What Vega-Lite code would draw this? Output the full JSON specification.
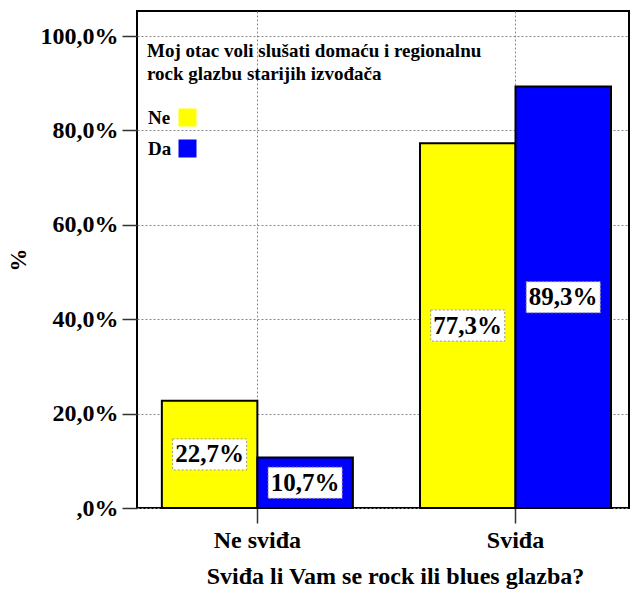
{
  "$schema": "https://vega.github.io/schema/vega-lite/v6.json",
  "width": 492,
  "height": 497,
  "autosize": {"type": "none"},
  "padding": {"left": 137, "top": 11, "right": 1, "bottom": 84},
  "config": {
    "locale": {"number": {"decimal": ",", "thousands": ".", "grouping": [3], "currency": ["", " €"]}},
    "font": "Liberation Serif",
    "view": {"stroke": "black", "strokeWidth": 2}
  },
  "data": {
    "values": [
      {"svida": "Ne sviđa", "otac": "Ne", "pct": 0.227},
      {"svida": "Ne sviđa", "otac": "Da", "pct": 0.107},
      {"svida": "Sviđa", "otac": "Ne", "pct": 0.773},
      {"svida": "Sviđa", "otac": "Da", "pct": 0.893}
    ]
  },
  "encoding": {
    "x": {
      "field": "svida", "type": "nominal", "sort": ["Ne sviđa", "Sviđa"],
      "scale": {"paddingInner": 0.26, "paddingOuter": 0.083, "align": 0.58},
      "axis": {
        "title": "Sviđa li Vam se rock ili blues glazba?",
        "labelAngle": 0, "domain": false, "grid": true, "gridColor": "#888", "gridDash": [2, 2], "gridWidth": 1,
        "ticks": true, "tickSize": 15, "tickColor": "#333", "tickWidth": 1.5,
        "labelFontSize": 24, "labelFontWeight": "bold", "labelColor": "black", "labelPadding": 5,
        "titleFontSize": 24, "titleFontWeight": "bold", "titleColor": "black", "titlePadding": 12, "titleX": 258
      }
    },
    "xOffset": {"field": "otac", "type": "nominal", "sort": ["Ne", "Da"], "scale": {"paddingInner": 0, "paddingOuter": 0}}
  },
  "layer": [
    {
      "mark": {"type": "bar", "stroke": "black", "strokeWidth": 2},
      "encoding": {
        "y": {
          "field": "pct", "type": "quantitative",
          "scale": {"domain": [0, 1.053], "nice": false},
          "axis": {
            "title": "%", "values": [0, 0.2, 0.4, 0.6, 0.8, 1], "format": ".1%",
            "labelExpr": "datum.value == 0 ? ',0%' : datum.label",
            "domain": false, "grid": true, "gridColor": "#888", "gridDash": [2, 2], "gridWidth": 1,
            "tickSize": 15, "tickColor": "#333", "tickWidth": 1.5,
            "labelFontSize": 24, "labelFontWeight": "bold", "labelColor": "black", "labelPadding": 4,
            "titleFontSize": 23, "titleFontWeight": "bold", "titleColor": "black", "titlePadding": 10
          }
        },
        "color": {
          "field": "otac", "type": "nominal",
          "scale": {"domain": ["Ne", "Da"], "range": ["#FFFF00", "#0000FF"]},
          "legend": {
            "orient": "none", "legendX": 10, "legendY": 31, "padding": 0,
            "title": ["Moj otac voli slušati domaću i regionalnu", "rock glazbu starijih izvođača"],
            "titleFontSize": 19, "titleFontWeight": "bold", "titleColor": "black", "titleLineHeight": 23,
            "titlePadding": 24, "titleLimit": 1000,
            "labelFontSize": 19, "labelFontWeight": "bold", "labelColor": "black",
            "symbolType": "square", "symbolSize": 324, "symbolStrokeWidth": 0, "symbolOpacity": 1,
            "symbolOffset": 31, "labelOffset": -49, "rowPadding": 11
          }
        }
      }
    },
    {
      "encoding": {
        "y": {"field": "pct", "type": "quantitative", "scale": {"domain": [0, 2.106], "nice": false}, "axis": null}
      },
      "layer": [
        {"mark": {"type": "point", "shape": "M-1,-0.42L1,-0.42L1,0.42L-1,0.42Z", "size": 5476, "filled": true, "fill": "white", "stroke": "#999", "strokeWidth": 1, "strokeDash": [2, 2], "opacity": 1}},
        {"mark": {"type": "text", "fontSize": 25, "fontWeight": "bold", "color": "black"}, "encoding": {"text": {"field": "pct", "type": "quantitative", "format": ".1%"}}}
      ]
    }
  ],
  "resolve": {"scale": {"y": "independent"}}
}
